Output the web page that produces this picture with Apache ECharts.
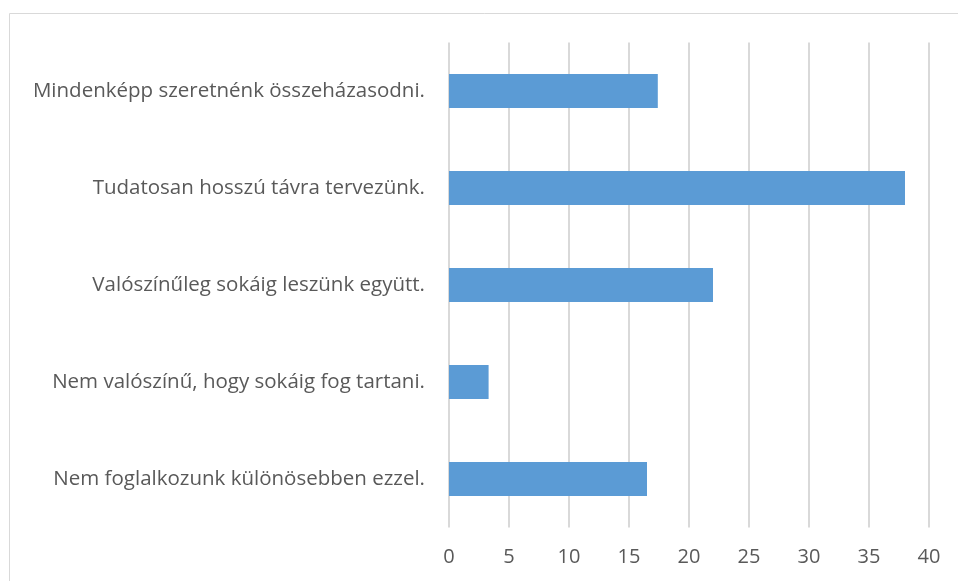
<!DOCTYPE html>
<html>
<head>
<meta charset="utf-8">
<script src="https://cdn.jsdelivr.net/npm/echarts@6/dist/echarts.min.js"></script>
<style>
	html, body { margin: 0; padding: 0; background: #fff; }
	#chart { width: 958px; height: 581px; }
</style>
</head>
<body>
<div id="chart"></div>
<script>
const categories = [
	'Mindenképp szeretnénk összeházasodni.',
	'Tudatosan hosszú távra tervezünk.',
	'Valószínűleg sokáig leszünk együtt.',
	'Nem valószínű, hogy sokáig fog tartani.',
	'Nem foglalkozunk különösebben ezzel.'
]
const values = [17.4, 38.0, 22.0, 3.3, 16.5]
const xTicks = [0, 5, 10, 15, 20, 25, 30, 35, 40]

const font = "'Open Sans', sans-serif"
const textColor = '#595959'

var myChart = echarts.init(document.getElementById('chart'))
var option = {
	animation: false,
	graphic: [{
		type: 'rect',
		shape: { x: 9.5, y: 13.5, width: 1000, height: 1000 },
		style: { fill: 'none', stroke: '#d9d9d9', lineWidth: 1 },
		silent: true
	}],
	grid: {
		left: 449,
		right: 29,
		top: 42.5,
		bottom: 53.5
	},
	xAxis: {
		type: 'value',
		min: xTicks[0],
		max: xTicks[xTicks.length - 1],
		interval: 5,
		axisLine: { show: false },
		axisTick: { show: false },
		splitLine: { lineStyle: { color: '#d9d9d9', width: 2 } },
		axisLabel: {
			color: textColor,
			fontFamily: font,
			fontSize: 20,
			margin: 20
		}
	},
	yAxis: {
		type: 'category',
		data: categories,
		inverse: true,
		axisLine: { show: false },
		axisTick: { show: false },
		axisLabel: {
			color: textColor,
			fontFamily: font,
			fontSize: 20.5,
			margin: 24
		}
	},
	series: [{
		type: 'bar',
		data: values,
		barWidth: '35%',
		itemStyle: { color: '#5b9bd5' }
	}]
}
myChart.setOption(option)
</script>
</body>
</html>
